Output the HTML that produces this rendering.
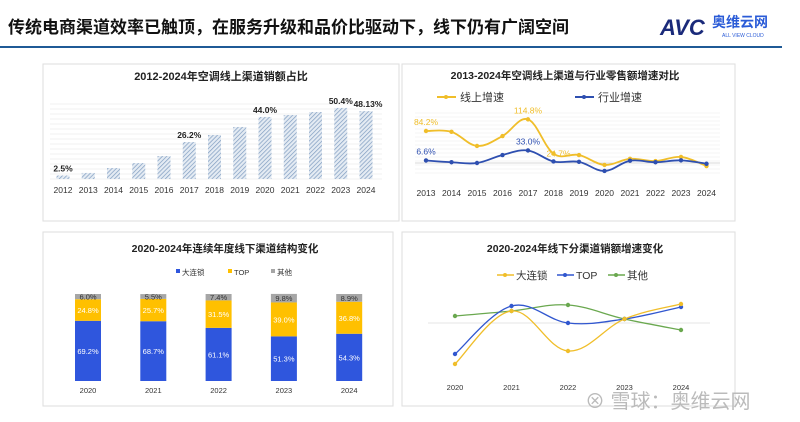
<!DOCTYPE html>
<html><head><meta charset="utf-8">
<style>
body{margin:0;width:800px;height:422px;background:#fff;overflow:hidden;font-family:"Liberation Sans","Noto Sans CJK SC",sans-serif;}
svg{display:block}
</style></head>
<body>
<svg id="s" width="800" height="422" xmlns="http://www.w3.org/2000/svg" font-family="Liberation Sans, Noto Sans CJK SC, sans-serif">
<defs>
<pattern id="hatch" width="3" height="3" patternUnits="userSpaceOnUse" patternTransform="rotate(45)">
<rect width="3" height="3" fill="#e4ebf3"/><line x1="0" y1="0" x2="0" y2="3" stroke="#7f9cc0" stroke-width="1.4"/>
</pattern>
</defs>
<text x="8" y="33" font-size="17" font-weight="bold" fill="#111">传统电商渠道效率已触顶，在服务升级和品价比驱动下，线下仍有广阔空间</text>
<g>
<text x="660" y="35" font-size="22" font-weight="bold" font-style="italic" fill="#1a2a7a">AVC</text>
<text x="712" y="27" font-size="14" font-weight="bold" fill="#2a5bd7">奥维云网</text>
<text x="722" y="37" font-size="5" fill="#2a5bd7">ALL VIEW CLOUD</text>
</g>
<line x1="0" y1="47" x2="782" y2="47" stroke="#1f5a96" stroke-width="2"/>
<rect x="43" y="64" width="356" height="157" fill="#fff" stroke="#ddd"/>
<rect x="402" y="64" width="333" height="157" fill="#fff" stroke="#ddd"/>
<rect x="43" y="232" width="350" height="174" fill="#fff" stroke="#ddd"/>
<rect x="402" y="232" width="333" height="174" fill="#fff" stroke="#ddd"/>
<g id="c1"></g><g id="c2"></g><g id="c3"></g><g id="c4"></g>
<text x="585" y="408" font-size="20" fill="#bbb">⊗ 雪球：奥维云网</text>
</svg>
<script>
// Chart 1
const c1Years=["2012","2013","2014","2015","2016","2017","2018","2019","2020","2021","2022","2023","2024"];
const c1Values=[2.5,4.3,7.8,11.3,16.3,26.2,31.2,36.9,44.0,45.4,47.5,50.4,48.13];
const c1Labels=["2.5%","","","","","26.2%","","","44.0%","","","50.4%","48.13%"];
// Chart 2
const c2Years=["2013","2014","2015","2016","2017","2018","2019","2020","2021","2022","2023","2024"];
const c2Online=[84.2,82,45,71,114.8,24.7,21,-5,11,5,16,-8];
const c2Industry=[6.6,2,0,21,33.0,4,3,-21,6,2,7,-2];
const c2OnlineLabels=["84.2%","","","","114.8%","24.7%","","","","","",""];
const c2IndustryLabels=["6.6%","","","","33.0%","","","","","","",""];
// Chart 3
const c3Years=["2020","2021","2022","2023","2024"];
const c3Chain=[69.2,68.7,61.1,51.3,54.3];
const c3Top=[24.8,25.7,31.5,39.0,36.8];
const c3Other=[6.0,5.5,7.4,9.8,8.9];
// Chart 4
const c4Years=["2020","2021","2022","2023","2024"];
const c4Chain=[-41,12,-28,4,19];
const c4Top=[-31,17,0,4,16];
const c4Other=[7,12,18,4,-7];

const NS="http://www.w3.org/2000/svg";
function mk(p,t,a){const e=document.createElementNS(NS,t);for(const k in a)e.setAttribute(k,a[k]);p.appendChild(e);return e;}
function txt(p,x,y,s,size,fill,anchor,bold){const e=mk(p,"text",{x:x,y:y,"font-size":size,fill:fill,"text-anchor":anchor||"middle"});if(bold)e.setAttribute("font-weight","bold");e.textContent=s;return e;}
function smooth(pts){let d="M"+pts[0][0]+","+pts[0][1];for(let i=0;i<pts.length-1;i++){const p0=pts[i-1]||pts[i],p1=pts[i],p2=pts[i+1],p3=pts[i+2]||p2;const t=0.18;d+=" C"+(p1[0]+(p2[0]-p0[0])*t)+","+(p1[1]+(p2[1]-p0[1])*t)+" "+(p2[0]-(p3[0]-p1[0])*t)+","+(p2[1]-(p3[1]-p1[1])*t)+" "+p2[0]+","+p2[1];}return d;}

// ---- chart 1
(function(){
const g=document.getElementById("c1");
let t=txt(g,221,80,"2012-2024年空调线上渠道销额占比",11,"#222","middle",true);


for(let y=179;y>=100;y-=5){const l=mk(g,"line",{x1:50,x2:382,y1:y,y2:y,stroke:"#eee","stroke-width":0.8});

}
const x=i=>63+i*25.25, h=v=>v*1.41, base=179;
c1Values.forEach((v,i)=>{
const r=mk(g,"rect",{x:x(i)-6.5,y:base-h(v),width:13,height:h(v),fill:"url(#hatch)"});


const yl=txt(g,x(i),193,c1Years[i],8.5,"#333");


if(c1Labels[i]){const lb=txt(g,x(i)+(i==12?2:0),base-h(v)-4,c1Labels[i],8.5,"#222","middle",true);

}
});
})();

// ---- chart 2
(function(){
const g=document.getElementById("c2");
let t=txt(g,565,79,"2013-2024年空调线上渠道与行业零售额增速对比",10.5,"#222","middle",true);


const lg=mk(g,"g",{});


mk(lg,"line",{x1:437,x2:456,y1:97,y2:97,stroke:"#f0be2a","stroke-width":2});mk(lg,"circle",{cx:446,cy:97,r:2,fill:"#f0be2a"});
txt(lg,460,101,"线上增速",11,"#333","start");
mk(lg,"line",{x1:575,x2:594,y1:97,y2:97,stroke:"#2e4fb0","stroke-width":2});mk(lg,"circle",{cx:584,cy:97,r:2,fill:"#2e4fb0"});
txt(lg,598,101,"行业增速",11,"#333","start");
for(let y=113;y<=175;y+=4){const l=mk(g,"line",{x1:415,x2:720,y1:y,y2:y,stroke:"#f2f2f2","stroke-width":0.8});

}
const x=i=>426+i*25.5, y=v=>163-v*0.38;
const z=mk(g,"line",{x1:415,x2:720,y1:163,y2:163,stroke:"#ccc","stroke-width":0.8});


[[c2Online,"#f0be2a","online",c2OnlineLabels],[c2Industry,"#2e4fb0","industry",c2IndustryLabels]].forEach(([arr,col,nm,labs])=>{
const pts=arr.map((v,i)=>[x(i),y(v)]);
const p=mk(g,"path",{d:smooth(pts),fill:"none",stroke:col,"stroke-width":1.8});


pts.forEach((q,i)=>{const c=mk(g,"circle",{cx:q[0],cy:q[1],r:2.2,fill:col});


if(labs[i]){const lb=txt(g,q[0]+(i==5?5:0),q[1]-(i==5?-3:6),labs[i],8.5,col);

}});
});
c2Years.forEach((s,i)=>{const l=txt(g,x(i),196,s,8.5,"#333");

});
})();

// ---- chart 3
(function(){
const g=document.getElementById("c3");
let t=txt(g,225,252,"2020-2024年连续年度线下渠道结构变化",10.5,"#222","middle",true);


const cols=["#2f56dd","#ffc000","#a6a6a6"], names=["大连锁","TOP","其他"], lx=[176,228,271];
names.forEach((n,i)=>{const lg=mk(g,"g",{});


mk(lg,"rect",{x:lx[i],y:269,width:4,height:4,fill:cols[i]});txt(lg,lx[i]+6,275,n,7.5,"#333","start");});
const x=i=>88+i*65.3, base=381, h=v=>v*0.87;
c3Years.forEach((yr,i)=>{
let y0=base;
[[c3Chain[i],0,"#fff"],[c3Top[i],1,"#fff"],[c3Other[i],2,"#333"]].forEach(([v,k,tc])=>{
const r=mk(g,"rect",{x:x(i)-13,y:y0-h(v),width:26,height:h(v),fill:cols[k]});


const lb=txt(g,x(i),y0-h(v)/2+3,v.toFixed(1)+"%",7.5,tc);


y0-=h(v);});
const yl=txt(g,x(i),393,yr,7.5,"#333");


});
})();

// ---- chart 4
(function(){
const g=document.getElementById("c4");
let t=txt(g,575,252,"2020-2024年线下分渠道销额增速变化",10.5,"#222","middle",true);


const cols=["#f0be2a","#3157cf","#6aa84f"], names=["大连锁","TOP","其他"], lx=[497,557,608];
names.forEach((n,i)=>{const lg=mk(g,"g",{});


mk(lg,"line",{x1:lx[i],x2:lx[i]+17,y1:275,y2:275,stroke:cols[i],"stroke-width":1.5});
mk(lg,"circle",{cx:lx[i]+8,cy:275,r:2,fill:cols[i]});
txt(lg,lx[i]+19,279,n,10.5,"#333","start");});
const x=i=>455+i*56.5, y=v=>323-v;
const z=mk(g,"line",{x1:428,x2:710,y1:323,y2:323,stroke:"#ddd","stroke-width":0.8});


[[c4Other,2],[c4Top,1],[c4Chain,0]].forEach(([arr,k])=>{
const pts=arr.map((v,i)=>[x(i),y(v)]);
const p=mk(g,"path",{d:smooth(pts),fill:"none",stroke:cols[k],"stroke-width":1.3});


pts.forEach(q=>{const c=mk(g,"circle",{cx:q[0],cy:q[1],r:2.2,fill:cols[k]});

});
});
c4Years.forEach((s,i)=>{const l=txt(g,x(i),390,s,7.5,"#333");

});
})();
</script>
</body></html>
